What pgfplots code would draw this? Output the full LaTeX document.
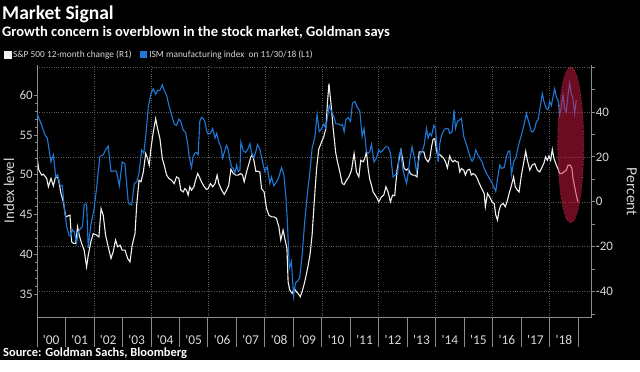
\documentclass[border=0pt]{standalone}
\usepackage{fontspec}
\setmainfont{Carlito}
\newfontfamily\tickfont{Carlito}
\usepackage{pgfplots}
\pgfplotsset{compat=1.18}
\usepackage{pgfplotstable}
\definecolor{ismblue}{HTML}{1F78D8}
\definecolor{spwhite}{HTML}{F0F0F0}
\definecolor{gridgray}{HTML}{5A5A5A}
\definecolor{axgray}{HTML}{8C8C8C}
\definecolor{lblgray}{HTML}{D8D8D8}
\definecolor{ellred}{HTML}{D81840}

% ISM manufacturing index (left axis); n = months after Dec 1999
\pgfplotstableread{
n val
0 57.7
2.0 56.2
3.4 55.0
4.35 54.6
5.9 51.6
6.9 52.5
7.9 49.7
8.7 50.0
9.7 48.7
10.7 48.6
11.5 45.8
12.5 43.5
13.5 42.4
14.3 42.2
14.9 43.1
15.7 42.8
16.7 41.4
17.4 42.8
18.5 43.3
19.2 43.5
19.9 46.3
20.9 46.3
21.6 40.8
22.7 43.7
24.0 45.6
25.1 48.3
26.5 52.3
27.9 52.5
28.9 53.1
30.0 53.6
31.2 50.4
32.6 50.5
33.5 50.4
34.7 48.6
35.9 51.6
37.0 51.4
38.5 46.4
39.9 46.2
41.0 48.9
42.0 49.1
43.0 50.2
44.1 53.1
45.0 52.7
45.9 55.1
46.9 58.5
48.0 60.2
49.0 60.8
50.0 60.1
50.8 60.6
51.8 60.6
52.8 61.3
53.6 60.6
54.6 60.0
55.6 58.7
56.7 57.5
57.8 56.4
58.8 56.2
59.8 57.0
60.6 56.7
61.6 55.6
62.6 55.3
63.4 54.1
64.1 52.3
65.1 50.9
65.8 52.3
66.5 52.7
67.2 52.8
67.9 52.5
68.6 56.7
69.3 57.2
70.0 57.1
70.7 56.7
71.4 55.6
72.1 55.1
73.1 55.2
74.0 55.8
75.0 54.6
75.7 55.2
76.6 54.1
77.5 53.5
78.2 52.1
79.2 53.1
79.9 53.7
80.6 53.1
81.3 51.8
82.0 51.0
82.7 50.8
83.4 50.2
84.1 51.2
84.8 50.4
85.5 50.6
85.9 54.1
86.9 53.0
87.9 52.8
88.7 53.1
89.7 53.9
90.4 52.7
91.4 52.1
92.2 52.9
92.9 53.8
93.9 53.2
94.9 51.8
96.0 50.4
97.0 51.0
98.1 48.9
98.8 49.7
99.8 48.6
100.9 49.1
101.9 49.7
103.0 50.9
104.0 50.0
104.8 47.4
105.5 44.1
106.3 38.2
107.2 39.1
108.1 34.7
108.9 36.4
109.8 36.6
110.7 37.1
111.7 39.9
112.8 44.1
114.0 47.9
115.0 50.4
115.9 53.3
117.1 54.8
118.0 57.6
118.9 55.4
119.9 55.8
120.8 56.4
121.7 55.8
122.4 57.3
123.1 58.7
124.1 57.9
125.1 57.3
125.9 56.4
126.9 56.4
127.9 56.2
128.7 56.3
129.4 55.4
130.1 56.9
131.1 57.2
132.1 56.7
132.9 59.0
133.9 59.2
134.9 58.5
136.0 58.0
137.0 54.8
137.8 55.8
138.8 52.9
139.5 52.7
140.2 52.9
140.9 53.8
142.0 51.6
143.0 52.1
144.0 53.1
144.8 52.8
145.8 53.1
146.8 53.5
147.9 53.5
148.9 52.7
150.0 49.7
151.0 50.0
151.9 50.0
152.6 52.5
153.3 53.1
154.0 50.8
155.0 49.7
155.7 48.9
156.4 50.2
157.2 52.1
158.0 53.5
158.9 52.3
159.9 50.4
160.6 51.4
161.3 52.5
162.3 53.0
163.1 53.7
164.1 55.8
164.8 54.6
165.5 55.2
166.2 54.9
167.2 56.2
167.9 55.8
169.0 51.6
169.7 53.9
170.4 54.9
171.4 55.6
172.2 55.8
173.2 55.8
173.9 55.2
174.9 55.4
175.7 58.1
176.3 55.8
177.1 56.7
178.1 56.9
178.8 57.1
179.8 54.8
180.6 54.1
181.6 53.1
182.6 52.1
183.3 51.7
184.1 52.1
184.8 53.1
185.8 52.5
186.5 52.1
187.5 51.6
188.4 50.8
189.3 50.2
190.3 49.7
191.4 49.1
192.4 48.5
193.3 47.9
194.0 49.5
195.0 51.2
195.7 50.8
196.8 50.9
197.8 52.3
198.5 52.9
199.2 53.0
199.9 50.0
200.8 51.6
201.7 52.1
202.7 53.5
203.7 54.6
204.8 55.8
205.5 56.7
206.2 57.7
206.9 56.9
207.6 56.2
208.3 55.4
209.0 55.4
209.7 55.8
210.4 56.7
211.1 56.9
212.1 58.7
212.9 60.2
213.6 59.2
214.6 58.3
215.3 58.2
216.0 59.2
216.7 58.7
217.4 59.8
218.1 60.8
218.8 59.8
219.5 59.4
220.2 57.5
220.9 58.5
221.6 60.0
222.3 58.3
223.0 57.9
223.7 60.0
224.4 61.5
225.1 60.2
225.8 59.6
226.5 57.7
227.2 59.4
}\ismdata

% S&P 500 12-month change, percent (right axis)
\pgfplotstableread{
n val
0 20.0
0.8 14.1
2.0 11.9
2.7 12.3
4.1 10.4
4.8 6.7
5.9 10.4
6.9 7.1
7.9 11.4
9.0 10.4
10.1 3.7
11.1 0
12.1 -6.7
13.2 -6.2
13.9 -5.9
14.6 -17.8
15.4 -18.5
16.3 -18.5
17.1 -11.1
17.8 -14.8
18.8 -18.5
19.9 -21.5
20.9 -28.9
21.6 -23.7
22.7 -17.8
23.7 -14.1
25.1 -14.8
26.1 -15.6
27.0 -3.0
27.9 -5.9
28.9 -14.8
30.0 -20.0
31.2 -25.2
32.1 -22.2
33.1 -17.0
34.0 -20.0
35.0 -19.3
35.9 -21.5
37.1 -21.5
38.2 -25.2
39.2 -26.7
40.1 -19.3
41.3 -14.1
42.0 -1.5
43.0 9.6
43.8 8.9
44.8 13.3
45.8 21.5
46.6 19.3
47.3 16.3
48.0 23.7
49.0 31.1
50.0 37.0
50.8 32.6
51.8 28.1
52.8 19.3
53.6 16.3
54.6 11.9
55.6 10.4
56.7 9.6
57.8 8.1
58.8 11.1
59.8 10.4
60.6 5.2
61.6 4.4
62.3 5.9
63.0 5.2
63.7 3.0
64.4 6.7
65.1 5.2
66.1 6.7
66.8 9.6
67.7 12.6
68.4 11.1
69.3 8.9
70.5 6.7
71.4 5.5
72.1 5.9
73.1 8.1
74.0 6.7
75.0 8.1
75.9 11.9
76.6 8.1
77.8 5.2
78.9 3.3
79.9 5.2
80.8 7.4
81.7 14.5
82.7 12.6
83.7 11.9
84.8 11.9
85.8 12.6
86.6 11.9
87.3 8.9
88.3 13.3
89.3 17.0
90.1 20.0
90.8 21.0
91.5 17.8
92.2 13.6
92.9 13.6
93.9 13.3
94.6 5.9
95.7 4.4
96.7 -3.0
97.7 -5.9
98.8 -6.7
99.9 -6.7
100.9 -7.4
101.9 -11.1
102.7 -17.0
103.7 -12.6
104.4 -16.3
105.3 -20.7
105.8 -35.6
106.5 -39.3
107.5 -40.7
108.4 -38.5
109.3 -40.0
110.0 -40.7
110.9 -42.2
111.7 -40.0
112.8 -35.6
114.0 -29.6
115.0 -23.7
115.9 -14.8
116.8 0
117.8 14.8
118.7 23.4
119.9 26.7
120.8 28.9
121.7 32.6
122.4 44.4
123.0 52.6
123.8 44.4
124.8 32.6
125.8 22.2
126.6 17.8
127.6 13.3
128.6 8.1
129.4 7.7
130.4 9.6
131.4 11.1
132.5 14.1
133.6 21.5
134.6 13.3
135.6 11.1
136.4 18.5
137.4 17.8
138.1 19.3
138.8 22.2
139.5 14.8
140.2 10.0
140.9 7.5
141.6 4.4
143.0 2.2
144.0 0
145.1 2.2
146.1 3.0
147.0 6.7
147.9 4.4
148.9 0
149.8 3.0
150.7 2.7
151.7 14.1
152.6 19.3
153.3 23.0
154.0 19.3
154.7 14.8
155.7 14.1
156.4 14.8
157.3 12.6
158.2 11.9
159.2 11.9
160.1 11.1
161.0 22.2
162.0 22.2
163.0 22.2
163.7 19.3
164.8 17.8
165.5 19.3
166.2 24.4
166.9 27.9
167.6 28.1
168.3 23.0
168.7 21.0
169.7 21.0
170.7 20.0
171.4 19.3
172.1 17.8
172.9 15.1
173.9 20.4
174.6 18.5
175.3 17.8
176.0 18.5
176.7 17.8
177.4 17.8
178.1 13.3
178.8 14.8
179.8 14.1
180.5 11.9
181.3 14.1
182.3 14.5
183.0 11.9
183.7 12.6
184.7 11.9
185.5 10.4
186.2 8.5
187.0 6.7
187.7 5.2
188.4 3.7
188.9 -2.2
189.8 3.7
190.7 2.2
191.7 0
192.6 -0.7
193.3 -5.9
194.0 -8.1
194.7 -3.7
195.4 -1.5
196.4 -0.7
197.3 -2.2
198.0 0
198.9 3.7
199.9 7.4
200.8 11.1
201.5 6.7
202.4 5.2
203.1 4.4
204.1 11.9
205.1 17.8
205.9 22.5
206.6 18.5
207.6 14.1
208.6 16.3
209.7 17.0
210.8 14.1
211.8 13.3
212.5 14.8
213.5 17.0
214.3 20.0
215.0 18.5
215.7 20.4
216.4 18.5
217.1 23.3
217.8 19.3
218.8 16.3
219.5 14.8
220.2 12.6
221.2 12.6
222.0 13.3
223.0 14.1
223.7 16.3
224.7 16.3
225.4 14.8
225.8 10.4
226.5 6.7
227.2 3.0
227.9 0
}\spdata

\begin{document}
\begin{tikzpicture}[x=1bp,y=1bp]
\fill[black] (0,0) rectangle (640,360);

% titles
\node[anchor=base west, inner sep=0pt, text=white, font=\bfseries\fontsize{19.6}{20}\selectfont] at (2,340.5) {Market Signal};
\node[anchor=base west, inner sep=0pt, text=white, font=\bfseries\fontsize{14.6}{15}\selectfont] at (2,323.5) {Growth concern is overblown in the stock market, Goldman says};
\node[anchor=base west, inner sep=0pt, text=white, font=\bfseries\fontsize{12.5}{13}\selectfont] at (3,3.3) {Source: Goldman Sachs, Bloomberg};
\node[rotate=90, text=lblgray, font=\fontsize{15}{16}\selectfont] at (9,169) {Index level};
\node[rotate=-90, text=lblgray, font=\fontsize{15.5}{16}\selectfont] at (632,168) {Percent};

% right axis: S&P 500 12-month change
\begin{axis}[
  at={(37bp,42bp)}, anchor=south west, scale only axis,
  width=555bp, height=253bp,
  xmin=0, xmax=233.7, ymin=-51.6, ymax=60.9,
  axis y line*=right, axis x line*=bottom,
  axis line style={axgray, -, line width=0.8bp},
  xtick={0,24,...,216}, xticklabels={},
  major x tick style={draw=none},
  xmajorgrids, ymajorgrids,
  grid style={gridgray, dotted, line width=0.6bp},
  ytick={-40,-20,0,20,40,60},
  yticklabels={-40,-20,0,20,40,{}},
  minor ytick={-50,-30,-10,10,30,50},
  tick align=outside, major tick length=3bp, minor tick length=3bp,
  y tick style={axgray, line width=0.8bp},
  yticklabel style={font=\tickfont\fontsize{13}{13}\selectfont, text=lblgray, anchor=west, inner sep=0pt, xshift=1bp},
]
\addplot[color=spwhite, line width=1.1bp] table[x=n, y=val] {\spdata};
\end{axis}

% left axis: ISM manufacturing index
\begin{axis}[
  at={(37bp,42bp)}, anchor=south west, scale only axis,
  width=555bp, height=253bp,
  xmin=0, xmax=233.7, ymin=32, ymax=63.8,
  axis y line*=left, axis x line*=bottom,
  axis line style={axgray, -, line width=0.8bp},
  xtick={6,18,...,222},
  xticklabels={'00,'01,'02,'03,'04,'05,'06,'07,'08,'09,'10,'11,'12,'13,'14,'15,'16,'17,'18},
  major x tick style={draw=none},
  xticklabel style={font=\tickfont\fontsize{13.5}{14}\selectfont, text=lblgray, anchor=base, inner sep=0pt, yshift=-24bp},
  extra x ticks={0,12,...,228}, extra x tick labels={},
  extra x tick style={major tick length=29bp, tick align=outside, major x tick style={draw=axgray, line width=0.8bp}},
  ytick={35,40,...,60}, yticklabels={35,40,45,50,55,60},
  minor y tick num=4,
  tick align=outside, major tick length=3bp, minor tick length=1.5bp,
  y tick style={axgray, line width=0.8bp},
  yticklabel style={font=\tickfont\fontsize{13}{13}\selectfont, text=lblgray, anchor=east, inner sep=0pt, xshift=-1bp},
  legend columns=2,
  legend style={at={(-0.0595,1.066)}, anchor=north west, draw=none, fill=none, inner sep=0pt,
    text=lblgray, font=\fontsize{9.4}{10}\selectfont,
    /tikz/every even column/.append style={column sep=6bp}},
  legend cell align=left,
  legend image code/.code={\fill (0bp,-3.2bp) rectangle (6.5bp,3.2bp);},
]
\addlegendimage{color=spwhite}
\addlegendentry{S\&P 500 12-month change (R1)}
\addplot[color=ismblue, line width=1.1bp] table[x=n, y=val] {\ismdata};
\addlegendentry{ISM manufacturing index\ \ on 11/30/18 (L1)}
\end{axis}

% highlight ellipse
\fill[ellred, fill opacity=0.5] (571,215) ellipse [x radius=13bp, y radius=78bp];
\draw[ellred!80!white, dotted, line width=0.6bp] (571,215) ellipse [x radius=13bp, y radius=78bp];
\end{tikzpicture}
\end{document}
